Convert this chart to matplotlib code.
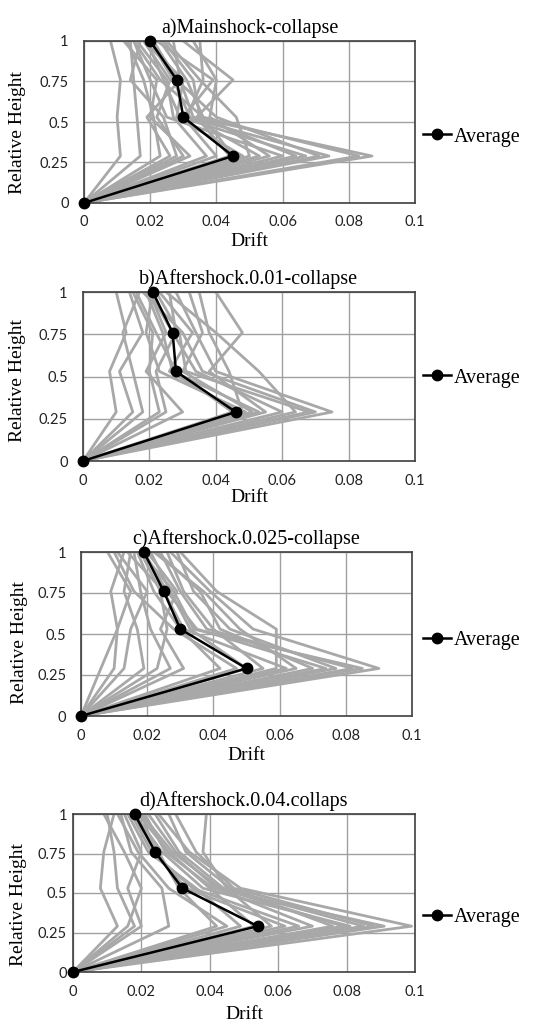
import matplotlib
matplotlib.use("Agg")
import matplotlib.pyplot as plt

# ---------------- data ----------------
heights = [0, 0.29, 0.53, 0.76, 1.0]
x_ticks = [0, 0.02, 0.04, 0.06, 0.08, 0.1]
x_tick_labels = ["0", "0.02", "0.04", "0.06", "0.08", "0.1"]
y_ticks = [0, 0.25, 0.5, 0.75, 1]
y_tick_labels = ["0", "0.25", "0.5", "0.75", "1"]

titles = ["a)Mainshock-collapse", "b)Aftershock.0.01-collapse",
          "c)Aftershock.0.025-collapse", "d)Aftershock.0.04.collaps"]

# drift at heights 0.29, 0.53, 0.76, 1.0 (ground drift = 0)
records_a = [
    [0.011, 0.010, 0.011, 0.008], [0.017, 0.016, 0.015, 0.014],
    [0.023, 0.021, 0.018, 0.013], [0.028, 0.024, 0.014, 0.017],
    [0.032, 0.020, 0.022, 0.012], [0.037, 0.027, 0.025, 0.016],
    [0.040, 0.030, 0.039, 0.022], [0.044, 0.034, 0.045, 0.030],
    [0.048, 0.028, 0.030, 0.018], [0.050, 0.046, 0.035, 0.025],
    [0.053, 0.032, 0.027, 0.020], [0.056, 0.038, 0.040, 0.033],
    [0.060, 0.025, 0.020, 0.015], [0.064, 0.035, 0.033, 0.024],
    [0.067, 0.029, 0.024, 0.019], [0.071, 0.040, 0.028, 0.021],
    [0.074, 0.031, 0.036, 0.035], [0.083, 0.036, 0.031, 0.023],
    [0.087, 0.033, 0.029, 0.020], [0.026, 0.019, 0.029, 0.027],
    [0.030, 0.022, 0.026, 0.018], [0.045, 0.036, 0.023, 0.015],
]
records_b = [
    [0.010, 0.008, 0.013, 0.010], [0.015, 0.011, 0.018, 0.014],
    [0.018, 0.015, 0.012, 0.017], [0.023, 0.020, 0.021, 0.015],
    [0.030, 0.019, 0.025, 0.020], [0.045, 0.028, 0.022, 0.016],
    [0.047, 0.026, 0.033, 0.023], [0.051, 0.030, 0.036, 0.032],
    [0.055, 0.038, 0.048, 0.040], [0.060, 0.034, 0.027, 0.020],
    [0.064, 0.053, 0.040, 0.025], [0.068, 0.031, 0.029, 0.022],
    [0.070, 0.036, 0.030, 0.018], [0.075, 0.040, 0.034, 0.028],
    [0.049, 0.023, 0.019, 0.021], [0.053, 0.027, 0.024, 0.019],
    [0.025, 0.022, 0.028, 0.026], [0.048, 0.044, 0.038, 0.035],
]
records_c = [
    [0.006, 0.011, 0.015, 0.008], [0.010, 0.011, 0.009, 0.013],
    [0.013, 0.015, 0.020, 0.011], [0.019, 0.017, 0.013, 0.015],
    [0.023, 0.026, 0.024, 0.018], [0.027, 0.021, 0.018, 0.016],
    [0.031, 0.024, 0.029, 0.020], [0.042, 0.030, 0.022, 0.017],
    [0.050, 0.033, 0.027, 0.021], [0.055, 0.040, 0.031, 0.026],
    [0.059, 0.059, 0.041, 0.030], [0.065, 0.048, 0.037, 0.022],
    [0.074, 0.035, 0.026, 0.019], [0.077, 0.045, 0.034, 0.029],
    [0.082, 0.038, 0.030, 0.024], [0.090, 0.052, 0.039, 0.027],
    [0.062, 0.031, 0.025, 0.014], [0.070, 0.042, 0.036, 0.023],
    [0.047, 0.028, 0.016, 0.010], [0.085, 0.034, 0.028, 0.018],
]
records_d = [
    [0.013, 0.008, 0.009, 0.012], [0.018, 0.013, 0.012, 0.010],
    [0.020, 0.016, 0.020, 0.015], [0.028, 0.026, 0.017, 0.014],
    [0.042, 0.031, 0.025, 0.017], [0.049, 0.036, 0.022, 0.016],
    [0.053, 0.040, 0.028, 0.019], [0.058, 0.045, 0.038, 0.039],
    [0.062, 0.033, 0.024, 0.020], [0.070, 0.042, 0.030, 0.022],
    [0.076, 0.046, 0.033, 0.028], [0.081, 0.038, 0.026, 0.018],
    [0.085, 0.044, 0.031, 0.024], [0.088, 0.047, 0.036, 0.030],
    [0.091, 0.041, 0.027, 0.021], [0.099, 0.049, 0.034, 0.025],
    [0.016, 0.020, 0.015, 0.009], [0.045, 0.028, 0.019, 0.013],
    [0.066, 0.035, 0.023, 0.017], [0.079, 0.043, 0.029, 0.020],
]
average_a = [0, 0.045, 0.030, 0.028, 0.020]
average_b = [0, 0.046, 0.028, 0.027, 0.021]
average_c = [0, 0.050, 0.030, 0.025, 0.019]
average_d = [0, 0.054, 0.032, 0.024, 0.018]

records = [records_a, records_b, records_c, records_d]
averages = [average_a, average_b, average_c, average_d]

# ---------------- layout (pixels) ----------------
W, H = 534, 1022
fig = plt.figure(figsize=(W / 100, H / 100), dpi=100)

# left, right, top, bottom in pixels
boxes = [(84, 415, 41, 203), (83, 415, 292, 461), (81, 412, 552, 716), (73, 415, 814, 972)]
ytick_pads = [11, 11, 10.5, 4.5]
ylabel_pos = [(18, 133), (18, 380), (20, 643), (19, 904)]
xlabel_y = [241, 497, 756, 1014]
legend_y = [137, 378, 640, 917]

serif = "Liberation Serif"
sans = "Lato"
gray = "#a8a8a8"

for i in range(4):
    l, r, t, b = boxes[i]
    ax = fig.add_axes([l / W, 1 - b / H, (r - l) / W, (b - t) / H])
    for rec in records[i]:
        ax.plot([0] + rec, heights, color=gray, lw=2.0, zorder=2)
    avg_line, = ax.plot(averages[i], heights, color="black", lw=1.8, marker="o",
                        markersize=7.5, zorder=5, label="Average", clip_on=False)
    ax.set_xlim(0, 0.1)
    ax.set_ylim(0, 1)
    ax.set_xticks(x_ticks)
    ax.set_xticklabels(x_tick_labels, fontfamily=sans, fontsize=10.5, color="#222222")
    ax.set_yticks(y_ticks)
    ax.set_yticklabels(y_tick_labels, fontfamily=sans, fontsize=10.5, color="#222222")
    ax.tick_params(axis="both", length=0)
    ax.tick_params(axis="y", pad=ytick_pads[i])
    ax.tick_params(axis="x", pad=9)
    ax.grid(True, color="#a0a0a0", lw=1.0, zorder=1)
    ax.set_axisbelow(True)
    for s in ax.spines.values():
        s.set_color("#404040")
        s.set_linewidth(1.2)
        s.set_zorder(4)
    ax.set_title(titles[i], fontfamily=serif, fontsize=14.5, pad=6)
    ax.set_ylabel("Relative Height", fontfamily=serif, fontsize=14, va="center")
    ax.yaxis.set_label_coords(ylabel_pos[i][0] / W, 1 - ylabel_pos[i][1] / H,
                              transform=fig.transFigure)
    ax.set_xlabel("Drift", fontfamily=serif, fontsize=14, va="center")
    ax.xaxis.set_label_coords((l + r) / 2 / W, 1 - xlabel_y[i] / H,
                              transform=fig.transFigure)
    ax.legend(handles=[avg_line], labels=["Average"], loc="center left",
              bbox_to_anchor=(423 / W, 1 - legend_y[i] / H),
              bbox_transform=fig.transFigure, frameon=False,
              handlelength=1.4, handletextpad=0.15, borderpad=0, borderaxespad=0,
              prop={"family": serif, "size": 14.5})

fig.savefig("out.png", dpi=100)
